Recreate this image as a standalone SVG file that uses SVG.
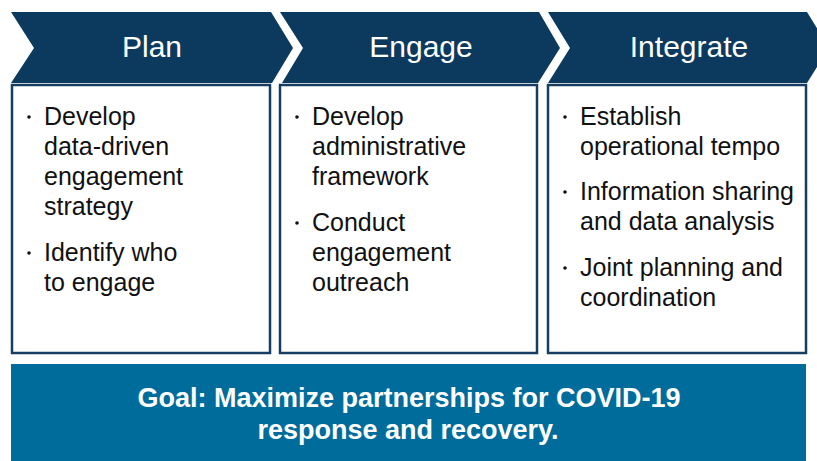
<svg xmlns="http://www.w3.org/2000/svg" width="817" height="461" viewBox="0 0 817 461">
<style>
.chev{fill:#0b3a5e}
.box{fill:#ffffff;stroke:#173e62;stroke-width:2.5}
.hd{font-family:"Liberation Sans",Arial,sans-serif;font-size:30px;fill:#ffffff;text-anchor:middle}
.tx{font-family:"Liberation Sans",Arial,sans-serif;font-size:25px;fill:#111111}
.dot{fill:#111111}
.goal{font-family:"Liberation Sans",Arial,sans-serif;font-size:27px;font-weight:bold;fill:#ffffff;text-anchor:middle}
</style>
<rect width="817" height="461" fill="#ffffff"/>
<g id="plan">
<polygon class="chev" points="11,12 271,12 293,48 272,83 11,83 34,48"/>
<text class="hd" x="152" y="57">Plan</text>
<rect class="box" x="12" y="85" width="258" height="268"/>
<circle class="dot" cx="29" cy="117" r="1.8"/>
<text class="tx" x="44" y="125">Develop</text>
<text class="tx" x="44" y="155">data-driven</text>
<text class="tx" x="44" y="185">engagement</text>
<text class="tx" x="44" y="215">strategy</text>
<circle class="dot" cx="29" cy="253" r="1.8"/>
<text class="tx" x="44" y="261">Identify who</text>
<text class="tx" x="44" y="291">to engage</text>
</g>
<g id="engage">
<polygon class="chev" points="280,12 539,12 560,48 538,83 282,83 303,48"/>
<text class="hd" x="421" y="57">Engage</text>
<rect class="box" x="280" y="85" width="257" height="268"/>
<circle class="dot" cx="297" cy="117" r="1.8"/>
<text class="tx" x="312" y="125">Develop</text>
<text class="tx" x="312" y="155">administrative</text>
<text class="tx" x="312" y="185">framework</text>
<circle class="dot" cx="297" cy="223" r="1.8"/>
<text class="tx" x="312" y="231">Conduct</text>
<text class="tx" x="312" y="261">engagement</text>
<text class="tx" x="312" y="291">outreach</text>
</g>
<g id="integrate">
<polygon class="chev" points="548,12 807,12 829,48 807,83 548,83 570,48"/>
<text class="hd" x="689" y="57">Integrate</text>
<rect class="box" x="548" y="85" width="258" height="268"/>
<circle class="dot" cx="565" cy="117" r="1.8"/>
<text class="tx" x="580" y="125">Establish</text>
<text class="tx" x="580" y="155">operational tempo</text>
<circle class="dot" cx="565" cy="192" r="1.8"/>
<text class="tx" x="580" y="200">Information sharing</text>
<text class="tx" x="580" y="230">and data analysis</text>
<circle class="dot" cx="565" cy="268" r="1.8"/>
<text class="tx" x="580" y="276">Joint planning and</text>
<text class="tx" x="580" y="306">coordination</text>
</g>
<g id="goal">
<rect x="11" y="364" width="795" height="97" fill="#006c9c"/>
<text class="goal" x="409" y="407">Goal: Maximize partnerships for COVID-19</text>
<text class="goal" x="408" y="439">response and recovery.</text>
</g>
<g id="connectors"></g>
</svg>
